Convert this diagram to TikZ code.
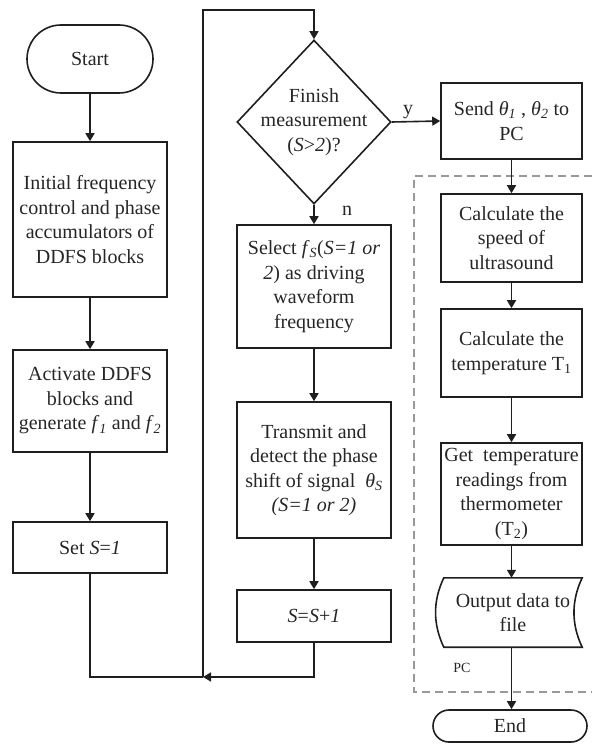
\documentclass[tikz,border=0pt]{standalone}
\usepackage{fontspec}
\setmainfont{Liberation Serif}
\usetikzlibrary{shapes.geometric,shapes.misc,arrows.meta,calc}
\begin{document}
\begin{tikzpicture}[x=1pt,y=-1pt,
  every node/.style={font=\fontsize{20}{24.5}\selectfont, text=black!85},
  stroke/.style={draw=black!88, line width=1.6pt},
  box/.style={stroke, rectangle, align=center, inner sep=1pt},
  term/.style={stroke, rounded rectangle, inner sep=0pt},
  decision/.style={stroke, diamond, inner sep=0pt},
  flow/.style={stroke, -{Triangle[length=8pt,width=9pt]}},
  link/.style={stroke},
  region/.style={draw=black!40, line width=1.3pt, dash pattern=on 8pt off 5pt},
  tag/.style={inner sep=0pt}]
\useasboundingbox (0,0) rectangle (592,746);

% left column: initialisation
\node[term, minimum width=126pt, minimum height=68pt] (start) at (90,59) {Start};
\node[box, minimum width=154pt, minimum height=155pt] (init) at (90,219.5)
  {Initial frequency\\control and phase\\accumulators of\\DDFS blocks};
\node[box, minimum width=154pt, minimum height=102pt] (act) at (90,401)
  {Activate DDFS\\blocks and\\generate \textit{f}\textsubscript{\textit{1}} and \textit{f}\textsubscript{\textit{2}}};
\node[box, minimum width=154pt, minimum height=51pt] (set) at (90,547.5)
  {Set \textit{S}=\textit{1}};

% middle column: measurement loop
\node[decision, minimum width=154pt, minimum height=164pt,
  label={[align=center]center:Finish\\measurement\\(\textit{S}>\textit{2})?}] (dec) at (314,122) {};
\node[box, minimum width=154pt, minimum height=123pt] (sel) at (314,286.5)
  {Select \textit{f}\textsubscript{\textit{S}}(\textit{S=1 or}\\\textit{2}) as driving\\waveform\\frequency};
\node[box, minimum width=154pt, minimum height=136pt] (tx) at (314,470)
  {Transmit and\\detect the phase\\shift of signal\ \ \textit{θ}\textsubscript{\textit{S}}\\\textit{(S=1 or 2)}};
\node[box, minimum width=154pt, minimum height=52pt] (inc) at (314,616)
  {\textit{S}=\textit{S}+\textit{1}};

% right column: PC side
\node[box, minimum width=141pt, minimum height=76pt] (send) at (511.5,121)
  {Send \textit{θ}\textsubscript{\textit{1}} , \textit{θ}\textsubscript{\textit{2}} to\\PC};
\node[box, minimum width=141pt, minimum height=88pt] (speed) at (511.5,238)
  {Calculate the\\speed of\\ultrasound};
\node[box, minimum width=141pt, minimum height=88pt] (temp) at (511.5,353)
  {Calculate the\\temperature T\textsubscript{1}};
\node[box, minimum width=141pt, minimum height=102pt] (read) at (511.5,494)
  {Get\ \ temperature\\readings from\\thermometer\\(T\textsubscript{2})};
\node[rectangle, align=center, inner sep=0pt, minimum width=138pt, minimum height=69pt] (out) at (513,612.5)
  {Output data to\\file};
\draw[stroke] (out.north west) -- (out.north east)
  .. controls +(-11,23) and +(-11,-23) .. (out.south east)
  -- (out.south west)
  .. controls +(-11,-23) and +(-11,23) .. (out.north west) -- cycle;
\node[term, minimum width=154pt, minimum height=32pt] (end) at (510,726) {End};

% PC region
\draw[region] (592,176) -- (414,176) -- (414,692) -- (592,692);
\node[tag, font=\fontsize{14}{16}\selectfont] (pc) at (462,668) {PC};

% branch labels
\node[tag] (ylab) at (408,112) {y};
\node[tag] (nlab) at (347,211) {n};

% loop-back route
\coordinate (join) at (203,677);
\coordinate (top) at (203,10);

% connectors
\draw[flow] (start) -- (init);
\draw[flow] (init) -- (act);
\draw[flow] (act) -- (set);
\draw[link] (set.south) -- (set.south |- join) -- (join);
\draw[flow] (inc.south) -- (inc.south |- join) -- (join);
\draw[flow] (join) -- (top) -| (dec.north);
\draw[flow] (dec.south) -- (sel.north);
\draw[flow] (sel) -- (tx);
\draw[flow] (tx) -- (inc);
\draw[flow] (dec.east) -- (send.west);
\draw[flow] (send) -- (speed);
\draw[flow] (speed) -- (temp);
\draw[flow] (temp) -- (read);
\draw[flow] (read.south) -- (read.south |- out.north);
\draw[flow] (out.south -| read.south) -- (end.north -| read.south);
\end{tikzpicture}
\end{document}
